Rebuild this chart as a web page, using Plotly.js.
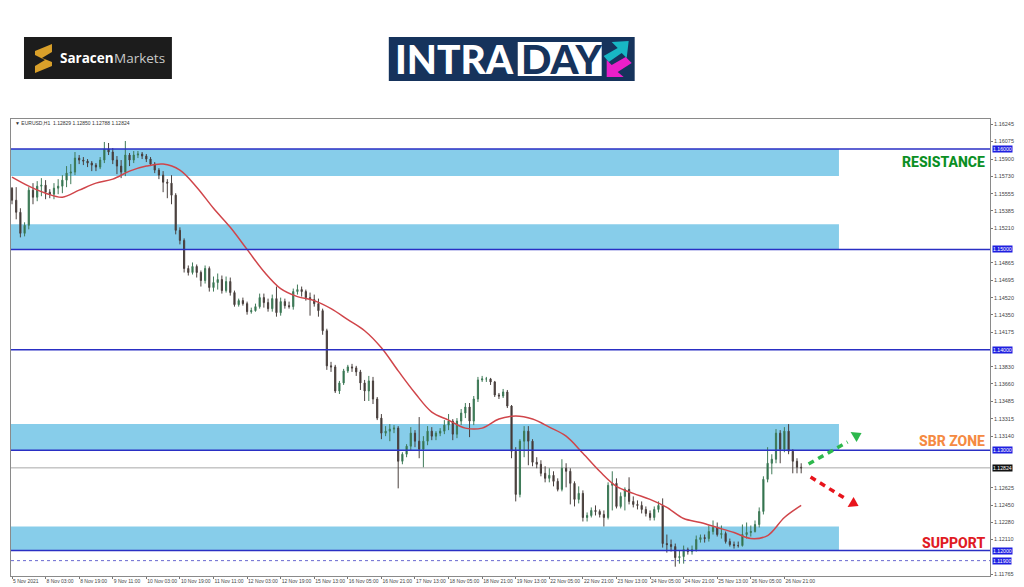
<!DOCTYPE html>
<html>
<head>
<meta charset="utf-8">
<script src="https://cdn.plot.ly/plotly-3.0.1.min.js"></script>
<style>html,body{margin:0;padding:0;background:#fff}#chart{width:1024px;height:587px}</style>
</head>
<body>
<div id="chart"></div>
<script>
const tickLabels = ["5 Nov 2021","8 Nov 03:00","8 Nov 19:00","9 Nov 11:00","10 Nov 03:00","10 Nov 19:00","11 Nov 11:00","12 Nov 03:00","12 Nov 19:00","15 Nov 13:00","16 Nov 05:00","16 Nov 21:00","17 Nov 13:00","18 Nov 05:00","18 Nov 21:00","19 Nov 13:00","22 Nov 05:00","22 Nov 21:00","23 Nov 13:00","24 Nov 05:00","24 Nov 21:00","25 Nov 13:00","26 Nov 05:00","26 Nov 21:00"];
const priceTicks = [1.16245,1.16075,1.15900,1.15730,1.15555,1.15385,1.15210,1.14865,1.14695,1.14520,1.14350,1.14175,1.13830,1.13660,1.13485,1.13315,1.13140,1.12625,1.12450,1.12280,1.12110,1.11765];
const openP = [
1.1561,1.1549,1.1537,1.1516,1.1524,1.1559,1.1552,1.1563,1.1564,1.1557,
1.1555,1.1561,1.1563,1.1569,1.1576,1.1577,1.1591,1.1589,1.1588,1.1586,
1.1584,1.1582,1.1589,1.1600,1.1597,1.1589,1.1583,1.1577,1.1594,1.1589,
1.1594,1.1595,1.1593,1.1590,1.1585,1.1579,1.1574,1.1567,1.1566,1.1554,
1.1519,1.1509,1.1481,1.1477,1.1483,1.1477,1.1469,1.1481,1.1462,1.1467,
1.1470,1.1459,1.1468,1.1457,1.1445,1.1449,1.1446,1.1438,1.1439,1.1443,
1.1452,1.1447,1.1441,1.1451,1.1437,1.1448,1.1444,1.1443,1.1458,1.1460,
1.1458,1.1452,1.1450,1.1446,1.1439,1.1419,1.1384,1.1383,1.1359,1.1367,
1.1379,1.1383,1.1382,1.1378,1.1367,1.1359,1.1369,1.1351,1.1332,1.1317,
1.1319,1.1321,1.1322,1.1289,1.1296,1.1304,1.1317,1.1309,1.1301,1.1309,
1.1319,1.1314,1.1317,1.1319,1.1325,1.1329,1.1316,1.1329,1.1337,1.1343,
1.1329,1.1351,1.1370,1.1371,1.1371,1.1368,1.1355,1.1354,1.1358,1.1344,
1.1299,1.1256,1.1309,1.1319,1.1309,1.1288,1.1286,1.1277,1.1272,1.1275,
1.1269,1.1261,1.1282,1.1279,1.1267,1.1251,1.1257,1.1233,1.1235,1.1240,
1.1239,1.1236,1.1233,1.1265,1.1267,1.1244,1.1254,1.1261,1.1249,1.1246,
1.1245,1.1241,1.1237,1.1233,1.1241,1.1245,1.1207,1.1206,1.1204,1.1193,
1.1194,1.1201,1.1199,1.1201,1.1211,1.1213,1.1212,1.1219,1.1223,1.1216,
1.1217,1.1209,1.1206,1.1205,1.1205,1.1216,1.1218,1.1219,1.1226,1.1239,
1.1271,1.1287,1.1291,1.1317,1.1301,1.1319,1.1299,1.1289,1.1283];
const highP = [
1.1562,1.1562,1.1541,1.1527,1.1562,1.1566,1.1568,1.1571,1.1569,1.1560,
1.1566,1.1570,1.1574,1.1583,1.1585,1.1597,1.1594,1.1592,1.1590,1.1588,
1.1586,1.1592,1.1607,1.1606,1.1601,1.1593,1.1589,1.1608,1.1596,1.1598,
1.1598,1.1597,1.1595,1.1592,1.1587,1.1581,1.1578,1.1570,1.1574,1.1556,
1.1522,1.1511,1.1484,1.1487,1.1485,1.1479,1.1484,1.1483,1.1473,1.1476,
1.1474,1.1473,1.1472,1.1459,1.1451,1.1452,1.1448,1.1442,1.1446,1.1456,
1.1456,1.1451,1.1455,1.1463,1.1452,1.1451,1.1448,1.1461,1.1465,1.1463,
1.1460,1.1457,1.1455,1.1451,1.1441,1.1421,1.1388,1.1385,1.1369,1.1381,
1.1385,1.1386,1.1384,1.1380,1.1370,1.1374,1.1373,1.1353,1.1336,1.1324,
1.1326,1.1325,1.1324,1.1298,1.1306,1.1323,1.1320,1.1333,1.1314,1.1324,
1.1323,1.1319,1.1322,1.1330,1.1336,1.1331,1.1332,1.1341,1.1347,1.1347,
1.1354,1.1373,1.1374,1.1373,1.1372,1.1369,1.1357,1.1361,1.1360,1.1345,
1.1303,1.1311,1.1324,1.1324,1.1311,1.1293,1.1290,1.1284,1.1282,1.1279,
1.1272,1.1291,1.1287,1.1282,1.1269,1.1264,1.1260,1.1238,1.1243,1.1245,
1.1241,1.1240,1.1268,1.1279,1.1272,1.1258,1.1263,1.1273,1.1254,1.1250,
1.1249,1.1244,1.1240,1.1244,1.1249,1.1252,1.1216,1.1211,1.1207,1.1200,
1.1205,1.1203,1.1205,1.1215,1.1216,1.1216,1.1225,1.1230,1.1228,1.1225,
1.1219,1.1212,1.1209,1.1209,1.1226,1.1228,1.1225,1.1230,1.1243,1.1274,
1.1303,1.1296,1.1321,1.1320,1.1323,1.1326,1.1301,1.1292,1.1287];
const lowP = [
1.1545,1.1530,1.1512,1.1513,1.1520,1.1545,1.1548,1.1553,1.1550,1.1551,
1.1550,1.1555,1.1556,1.1562,1.1565,1.1574,1.1585,1.1584,1.1582,1.1578,
1.1578,1.1580,1.1586,1.1594,1.1585,1.1575,1.1571,1.1573,1.1583,1.1586,
1.1591,1.1590,1.1587,1.1583,1.1576,1.1570,1.1557,1.1551,1.1545,1.1515,
1.1505,1.1477,1.1474,1.1475,1.1472,1.1463,1.1466,1.1458,1.1458,1.1460,
1.1456,1.1457,1.1454,1.1443,1.1443,1.1444,1.1435,1.1436,1.1438,1.1441,
1.1442,1.1438,1.1438,1.1433,1.1434,1.1441,1.1441,1.1440,1.1455,1.1453,
1.1449,1.1434,1.1443,1.1433,1.1415,1.1380,1.1378,1.1357,1.1356,1.1365,
1.1377,1.1378,1.1374,1.1360,1.1349,1.1349,1.1346,1.1330,1.1311,1.1314,
1.1309,1.1317,1.1262,1.1286,1.1293,1.1300,1.1303,1.1292,1.1283,1.1305,
1.1310,1.1310,1.1314,1.1316,1.1320,1.1310,1.1312,1.1325,1.1332,1.1313,
1.1325,1.1348,1.1368,1.1368,1.1365,1.1353,1.1351,1.1352,1.1342,1.1292,
1.1249,1.1253,1.1293,1.1285,1.1284,1.1282,1.1274,1.1268,1.1268,1.1264,
1.1259,1.1259,1.1263,1.1246,1.1244,1.1247,1.1229,1.1229,1.1233,1.1235,
1.1233,1.1224,1.1231,1.1240,1.1242,1.1242,1.1240,1.1246,1.1243,1.1241,
1.1237,1.1234,1.1230,1.1230,1.1238,1.1203,1.1198,1.1199,1.1184,1.1187,
1.1187,1.1196,1.1196,1.1199,1.1208,1.1208,1.1209,1.1216,1.1214,1.1212,
1.1207,1.1204,1.1202,1.1203,1.1204,1.1212,1.1214,1.1218,1.1223,1.1236,
1.1268,1.1276,1.1287,1.1287,1.1298,1.1296,1.1277,1.1277,1.1277];
const closeP = [
1.1549,1.1537,1.1516,1.1524,1.1559,1.1552,1.1563,1.1564,1.1557,1.1555,
1.1561,1.1563,1.1569,1.1576,1.1577,1.1591,1.1589,1.1588,1.1586,1.1584,
1.1582,1.1589,1.1600,1.1597,1.1589,1.1583,1.1577,1.1594,1.1589,1.1594,
1.1595,1.1593,1.1590,1.1585,1.1579,1.1574,1.1567,1.1566,1.1554,1.1519,
1.1509,1.1481,1.1477,1.1483,1.1477,1.1469,1.1481,1.1462,1.1467,1.1470,
1.1459,1.1468,1.1457,1.1445,1.1449,1.1446,1.1438,1.1439,1.1443,1.1452,
1.1447,1.1441,1.1451,1.1437,1.1448,1.1444,1.1443,1.1458,1.1460,1.1458,
1.1452,1.1450,1.1446,1.1439,1.1419,1.1384,1.1383,1.1359,1.1367,1.1379,
1.1383,1.1382,1.1378,1.1367,1.1359,1.1369,1.1351,1.1332,1.1317,1.1319,
1.1321,1.1322,1.1289,1.1296,1.1304,1.1317,1.1309,1.1301,1.1309,1.1319,
1.1314,1.1317,1.1319,1.1325,1.1329,1.1316,1.1329,1.1337,1.1343,1.1329,
1.1351,1.1370,1.1371,1.1371,1.1368,1.1355,1.1354,1.1358,1.1344,1.1299,
1.1256,1.1309,1.1319,1.1309,1.1288,1.1286,1.1277,1.1272,1.1275,1.1269,
1.1261,1.1282,1.1279,1.1267,1.1251,1.1257,1.1233,1.1235,1.1240,1.1239,
1.1236,1.1233,1.1265,1.1267,1.1244,1.1254,1.1261,1.1249,1.1246,1.1245,
1.1241,1.1237,1.1233,1.1241,1.1245,1.1207,1.1206,1.1204,1.1193,1.1194,
1.1201,1.1199,1.1201,1.1211,1.1213,1.1212,1.1219,1.1223,1.1216,1.1217,
1.1209,1.1206,1.1205,1.1205,1.1216,1.1218,1.1219,1.1226,1.1239,1.1271,
1.1287,1.1291,1.1317,1.1301,1.1319,1.1299,1.1289,1.1283,1.12824];
const maP = [1.1572,1.1563,1.1556,1.1552,1.1559,1.1566,1.1570,1.1578,1.1583,1.1585,1.1579,1.1562,1.1541,1.1522,1.1500,1.1478,1.1461,1.1453,1.1449,1.1441,1.1430,1.1419,1.1402,1.1379,1.1357,1.1338,1.1330,1.1322,1.1322,1.1331,1.1334,1.1331,1.1323,1.1314,1.1297,1.1279,1.1264,1.1257,1.1251,1.1243,1.1232,1.1228,1.1223,1.1218,1.1212,1.1215,1.1233,1.1245];
const zones = [[1.1573,1.1600],[1.1500,1.1525],[1.1300,1.1326],[1.1200,1.1224]];
const levels = [1.16,1.15,1.14,1.13,1.12];
const dottedLevel = 1.119;
const lastPrice = 1.12824;
const blueLabels = ["1.16000","1.15000","1.14000","1.13000","1.12000","1.11900"];
const barIndex = closeP.map((_, i) => i);
const maIndex = maP.map((_, i) => i * 4);
const tickIndex = tickLabels.map((_, i) => i * 8);

const xRange = [-0.238, 232.98];
const yRange = [1.11747, 1.16299];
const px = x => (x - 11) / 979.5;
const py = y => (576 - y) / 457;
const poly = (pts, color) => ({type:'path', xref:'paper', yref:'paper', layer:'above',
  path:'M' + pts.map(p => px(p[0]) + ',' + py(p[1])).join(' L') + ' Z', fillcolor:color, line:{width:0}});
const rectPx = (x0,y0,x1,y1,fill) => ({type:'rect', xref:'paper', yref:'paper', layer:'above',
  x0:px(x0), x1:px(x1), y0:py(y0), y1:py(y1), fillcolor:fill, line:{width:0}});
const linePx = (x0,y0,x1,y1,color) => ({type:'line', xref:'paper', yref:'paper', layer:'above',
  x0:px(x0), x1:px(x1), y0:py(y0), y1:py(y1), line:{color:color,width:3.5,dash:'6px,5px'}});
const text = (x,y,t,size,color,weight,family,anchor) => ({xref:'paper', yref:'paper', x:px(x), y:py(y), text:t, showarrow:false,
  xanchor:anchor||'left', yanchor:'middle', font:{size:size,color:color,family:family||'Roboto',weight:weight||400}, borderpad:0});

const shapes = [];
zones.forEach(z => shapes.push({type:'rect', xref:'x', yref:'y', layer:'below', x0:xRange[0], x1:197, y0:z[0], y1:z[1], fillcolor:'#87cdea', line:{width:0}}));
levels.forEach(l => shapes.push({type:'line', xref:'paper', yref:'y', layer:'above', x0:0, x1:1, y0:l, y1:l, line:{color:'#2a2fc4',width:1.5}}));
shapes.push({type:'line', xref:'paper', yref:'y', layer:'below', x0:0, x1:1, y0:dottedLevel, y1:dottedLevel, line:{color:'#6a6ad0',width:1,dash:'dot'}});
shapes.push({type:'line', xref:'paper', yref:'y', layer:'below', x0:0, x1:1, y0:lastPrice, y1:lastPrice, line:{color:'#a8a8a8',width:1}});
shapes.push(rectPx(24,37,172,79,'#1c1c1c'));
shapes.push(poly([[52,44],[52,52],[42,58],[52,62],[52,66],[35,73],[35,66],[45,60],[35,55],[35,51]],'#d9a02a'));
shapes.push(rectPx(389,37,635,81,'#16335c'));
shapes.push(rectPx(518,42,602,76,'#ffffff'));
shapes.push(poly([[604,56],[618,48],[612,42],[629,41],[627,58],[622,53],[609,62]],'#18b7c4'));
shapes.push(poly([[632,63],[618,72],[624,77],[607,77],[607,60],[612,65],[626,57]],'#ea1fc9'));
shapes.push(linePx(809,464,848,442,'#2db84d'));
shapes.push(poly([[851,432],[862,433],[857,442]],'#2db84d'));
shapes.push(linePx(811,477,848,500,'#e8141c'));
shapes.push(poly([[848,507],[859,506],[854,497]],'#e8141c'));

const annotations = [
  text(59,58,'<b>Saracen</b>',13.5,'#ffffff',700,'Open Sans'),
  text(113,58,'Markets',13.5,'#c9c9c9',400,'Open Sans'),
  text(394,59,'INTRA',39,'#ffffff',900,'Lato'),
  text(520,59,'DAY',40,'#16335c',900,'Lato'),
  text(14,122.5,'\u25BC EURUSD,H1  1.12829 1.12850 1.12788 1.12824',5,'#333333',400,'Liberation Sans'),
  text(986,162,'RESISTANCE',14,'#0a8f24',800,'Roboto','right'),
  text(986,441,'SBR ZONE',14,'#f58a42',800,'Roboto','right'),
  text(986,543,'SUPPORT',14,'#e01b24',800,'Roboto','right')
];
levels.concat([dottedLevel]).forEach((l, i) => annotations.push({xref:'paper', yref:'y', x:1.002, y:l, text:blueLabels[i], showarrow:false,
  xanchor:'left', yanchor:'middle', bgcolor:'#1f1fe0', borderpad:0, font:{size:5.2,color:'#ffffff',family:'Liberation Sans'}}));
annotations.push({xref:'paper', yref:'y', x:1.002, y:lastPrice, text:'1.12824', showarrow:false,
  xanchor:'left', yanchor:'middle', bgcolor:'#111111', borderpad:0, font:{size:5.2,color:'#ffffff',family:'Liberation Sans'}});

const data = [
  {type:'candlestick', x:barIndex, open:openP, high:highP, low:lowP, close:closeP, whiskerwidth:0, hoverinfo:'skip', showlegend:false,
   increasing:{line:{color:'#3f7a58',width:1}, fillcolor:'#1f6b3f'},
   decreasing:{line:{color:'#4a403e',width:1}, fillcolor:'#3a2f2d'}},
  {type:'scatter', mode:'lines', x:maIndex, y:maP, line:{color:'#d0454a',width:1.5,shape:'spline'}, hoverinfo:'skip', showlegend:false}
];

const layout = {
  width:1024, height:587, margin:{l:11,r:33.5,t:119,b:11,pad:0},
  paper_bgcolor:'#ffffff', plot_bgcolor:'#ffffff', showlegend:false, boxgap:0.6,
  xaxis:{range:xRange, type:'linear', rangeslider:{visible:false}, showgrid:false, zeroline:false, tickmode:'array', tickvals:tickIndex, ticktext:tickLabels,
    ticks:'outside', ticklen:2, tickcolor:'#777', tickwidth:1, showline:true, linecolor:'#8a8a8a', linewidth:1, mirror:true,
    ticklabelposition:'outside right', tickangle:0, tickfont:{size:5,color:'#444',family:'Liberation Sans'}},
  yaxis:{range:yRange, side:'right', showgrid:false, zeroline:false, tickmode:'array', tickvals:priceTicks, ticktext:priceTicks.map(v => v.toFixed(5)),
    ticks:'outside', ticklen:2, tickcolor:'#777', tickwidth:1, showline:true, linecolor:'#8a8a8a', linewidth:1, mirror:true,
    tickfont:{size:5.5,color:'#444',family:'Liberation Sans'}},
  shapes:shapes, annotations:annotations
};
Plotly.newPlot('chart', data, layout, {displayModeBar:false, staticPlot:true});
</script>
</body>
</html>
